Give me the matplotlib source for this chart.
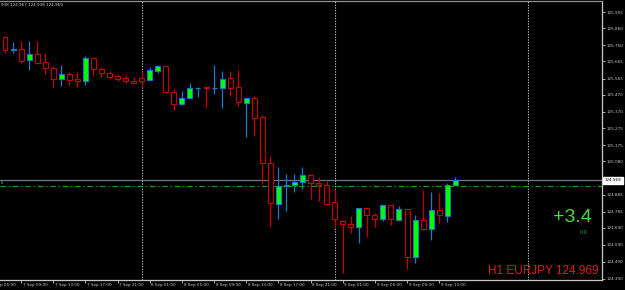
import matplotlib
matplotlib.use("Agg")
import matplotlib.pyplot as plt
import matplotlib.transforms as mtransforms

# ---------------- data (EURJPY H1) ----------------
opens = [125.807, 125.734, 125.740, 125.672, 125.709, 125.662, 125.627, 125.560, 125.592, 125.564,
         125.551, 125.685, 125.623, 125.599, 125.580, 125.568, 125.552, 125.568, 125.556, 125.609,
         125.638, 125.484, 125.414, 125.453, 125.510, 125.514, 125.508, 125.511, 125.566, 125.514,
         125.423, 125.449, 125.340, 125.070, 124.832, 124.935, 124.941, 124.957, 125.000, 124.951,
         124.939, 124.840, 124.728, 124.712, 124.696, 124.804, 124.763, 124.743, 124.822, 124.738,
         124.798, 124.517, 124.736, 124.681, 124.794, 124.757, 124.939]
highs = [125.814, 125.779, 125.785, 125.787, 125.783, 125.713, 125.638, 125.644, 125.603, 125.605,
         125.699, 125.693, 125.634, 125.611, 125.592, 125.584, 125.572, 125.611, 125.634, 125.646,
         125.641, 125.504, 125.492, 125.539, 125.515, 125.519, 125.644, 125.609, 125.609, 125.617,
         125.453, 125.461, 125.351, 125.109, 125.046, 125.007, 125.007, 125.045, 125.005, 124.986,
         124.963, 124.916, 124.736, 124.759, 124.806, 124.806, 124.779, 124.824, 124.825, 124.818,
         124.800, 124.763, 124.912, 124.900, 124.896, 124.954, 124.986]
lows = [125.713, 125.716, 125.654, 125.613, 125.656, 125.592, 125.514, 125.521, 125.527, 125.514,
        125.527, 125.580, 125.576, 125.564, 125.552, 125.537, 125.537, 125.514, 125.554, 125.596,
        125.478, 125.381, 125.410, 125.452, 125.457, 125.391, 125.476, 125.394, 125.464, 125.402,
        125.224, 125.226, 124.953, 124.693, 124.740, 124.790, 124.902, 124.919, 124.857, 124.849,
        124.822, 124.693, 124.423, 124.661, 124.603, 124.638, 124.693, 124.728, 124.708, 124.728,
        124.450, 124.485, 124.680, 124.618, 124.718, 124.726, 124.939]
closes = [125.732, 125.737, 125.670, 125.709, 125.658, 125.625, 125.560, 125.592, 125.558, 125.549,
          125.684, 125.619, 125.596, 125.574, 125.564, 125.549, 125.541, 125.552, 125.615, 125.638,
          125.484, 125.414, 125.453, 125.508, 125.512, 125.510, 125.511, 125.562, 125.511, 125.426,
          125.449, 125.335, 125.068, 124.834, 124.937, 124.939, 124.957, 125.000, 124.951, 124.939,
          124.828, 124.740, 124.711, 124.696, 124.804, 124.763, 124.740, 124.822, 124.740, 124.798,
          124.517, 124.736, 124.681, 124.794, 124.763, 124.939, 124.969]

time_labels = ["7 Sep 05:00", "7 Sep 09:00", "7 Sep 13:00", "7 Sep 17:00", "7 Sep 21:00",
               "8 Sep 01:00", "8 Sep 05:00", "8 Sep 09:00", "8 Sep 13:00", "8 Sep 17:00",
               "8 Sep 21:00", "9 Sep 01:00", "9 Sep 05:00", "9 Sep 09:00", "9 Sep 13:00"]
price_ticks = [125.955, 125.860, 125.760, 125.665, 125.565, 125.470, 125.370, 125.275,
               125.175, 125.080, 124.885, 124.785, 124.690, 124.590, 124.490, 124.390]
day_breaks = [17, 41, 65]          # bar index of 00:00 of each day
first_label_bar = -2               # bar index of the first time label
label_step = 4                      # hours between time labels
bid_price = 124.969
level_price = 124.933
header_text = "938 124.967 124.938 124.969"
symbol_text = "H1 EURJPY 124.969"
big_value = "+3.4"
small_value = "0.0"

# ---------------- style ----------------
BG = "black"
BEAR = "#c80000"
BULL_FILL = "#00ff00"
BULL_EDGE = "#1e78c8"
AXIS_TXT = "#c8c8c8"

fig = plt.figure(figsize=(6.25, 2.9), dpi=100, facecolor=BG)
ax = fig.add_axes([0.0, 10 / 290, 602 / 625, 279 / 290], facecolor=BG)

n = len(opens)
xs = list(range(n))
bw = 0.62
for i in xs:
    o, h, l, c = opens[i], highs[i], lows[i], closes[i]
    bull = c >= o
    wick = BULL_EDGE if bull else BEAR
    ax.vlines(i, l, h, color=wick, linewidth=0.9, zorder=2)
    bottom = min(o, c)
    height = max(abs(c - o), 0.0008)
    ax.bar(i, height, bottom=bottom, width=bw,
           facecolor=BULL_FILL if bull else BG,
           edgecolor=BULL_EDGE if bull else BEAR,
           linewidth=0.8, zorder=3)

# day separators
for d in day_breaks:
    ax.axvline(d, color="#d0d0d0", linewidth=0.8, linestyle=(0, (1, 1.4)), zorder=1)

# bid line and level line
ax.axhline(bid_price, color="#6c7884", linewidth=0.9, zorder=1)
ax.axhline(level_price, color="#18a018", linewidth=0.8,
           linestyle=(0, (5, 2.5, 1.2, 2.5)), zorder=1)

ax.set_xlim(-0.622, 74.25)
ax.set_ylim(124.384, 126.0195)

# spines
for s in ["left"]:
    ax.spines[s].set_visible(False)
ax.spines["top"].set_color("#909090")
ax.spines["right"].set_color("#c8c8c8")
ax.spines["bottom"].set_color("#c8c8c8")
for s in ["top", "right", "bottom"]:
    ax.spines[s].set_linewidth(0.9)

# price axis
ax.yaxis.tick_right()
ax.set_yticks(price_ticks)
ax.set_yticklabels([f"{p:.3f}" for p in price_ticks])
ax.tick_params(axis="y", colors=AXIS_TXT, labelsize=3, length=2, width=0.6, pad=1.5)
ax.tick_params(axis="y", labelcolor=AXIS_TXT)

# time axis
tick_pos = [first_label_bar + label_step * j for j in range(len(time_labels))]
ax.set_xticks([p for p in tick_pos if p >= 0])
ax.set_xticklabels([])
ax.tick_params(axis="x", colors="#c8c8c8", length=2.5, width=0.6)
for p, lab in zip(tick_pos, time_labels):
    ax.annotate(lab, xy=(p, 0), xycoords=("data", "axes fraction"),
                xytext=(1.2, -2.2), textcoords="offset points",
                ha="left", va="top", fontsize=3, color=AXIS_TXT,
                annotation_clip=False)

# current price box
trans = mtransforms.blended_transform_factory(ax.transAxes, ax.transData)
ax.text(1.004, bid_price, f"{bid_price:.3f}", transform=trans, ha="left", va="center",
        fontsize=3, color="black",
        bbox=dict(boxstyle="square,pad=0.35", fc="white", ec="white"), clip_on=False)

# small marker text at left of level line
ax.text(0.002, bid_price - 0.018, "0", transform=trans, ha="left", va="center",
        fontsize=2.5, color="#c0c0c0")

# header
fig.text(0.002, 1 - 5 / 290, header_text, fontsize=3, color="#d0d0d0",
         ha="left", va="center")

# overlay texts
ax.text(592 / 602, 124.751, big_value, transform=trans, ha="right", va="center",
        fontsize=14, color="#46dc3c", family="Liberation Sans")
ax.text(587 / 602, 124.661, small_value, transform=trans, ha="right", va="center",
        fontsize=4, color="#2ea02e", family="Liberation Sans")
ax.text(599 / 602, 124.434, symbol_text, transform=trans, ha="right", va="center",
        fontsize=8.5, color="#dc1e1e", family="Liberation Sans")

fig.savefig("out.png", dpi=100, facecolor=BG)
